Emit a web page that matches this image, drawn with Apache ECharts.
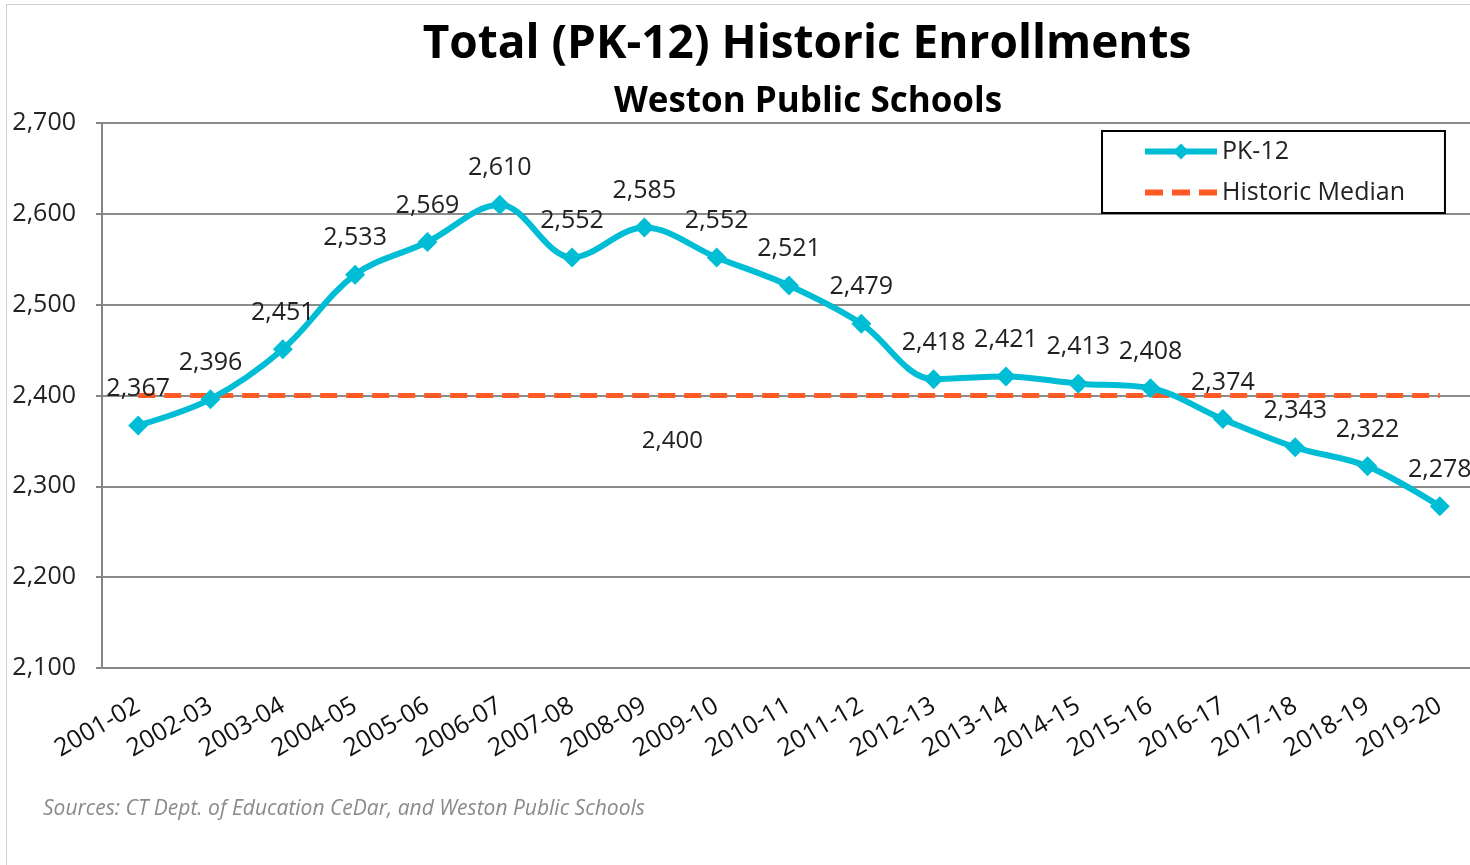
<!DOCTYPE html>
<html>
<head>
<meta charset="utf-8">
<script src="https://cdn.jsdelivr.net/npm/echarts@6/dist/echarts.min.js"></script>
<style>
  html, body { margin: 0; padding: 0; background: #fff; overflow: hidden; }
  #frame { position: absolute; left: 6px; top: 4px; width: 1470px; height: 870px; border: 1px solid #d0d0d0; box-sizing: border-box; }
  #chart { position: absolute; left: 0; top: 0; width: 1480px; height: 865px; }
</style>
</head>
<body>
<div id="frame"></div>
<div id="chart"></div>
<script>
const years = ["2001-02", "2002-03", "2003-04", "2004-05", "2005-06", "2006-07", "2007-08",
  "2008-09", "2009-10", "2010-11", "2011-12", "2012-13", "2013-14", "2014-15", "2015-16",
  "2016-17", "2017-18", "2018-19", "2019-20"];
const enrollment = [2367, 2396, 2451, 2533, 2569, 2610, 2552, 2585, 2552, 2521, 2479,
  2418, 2421, 2413, 2408, 2374, 2343, 2322, 2278];
const historicMedian = 2400;
const yTicks = [2100, 2200, 2300, 2400, 2500, 2600, 2700];

const font = "'Open Sans', 'Noto Sans', sans-serif";
const fmt = (v) => v.toLocaleString("en-US");
const cyan = "#00BDD6";
const orange = "#FF5A26";

const chart = echarts.init(document.getElementById("chart"));
const option = {
  animation: false,
  textStyle: { fontFamily: font },
  title: [
    {
      text: "Total (PK-12) Historic Enrollments",
      left: 802, top: 17, textAlign: "center",
      textStyle: { fontSize: 46, fontWeight: "bold", color: "#000", fontFamily: font },
    },
    {
      text: "Weston Public Schools",
      left: 803, top: 80, textAlign: "center",
      textStyle: { fontSize: 35, fontWeight: "bold", color: "#000", fontFamily: font },
    },
    {
      text: "Sources: CT Dept. of Education CeDar, and Weston Public Schools",
      left: 38, top: 794,
      textStyle: { fontSize: 21, fontStyle: "italic", fontWeight: "normal", color: "#8a8a8a", fontFamily: font },
    },
  ],
  legend: {
    left: 1102, top: 131,
    orient: "vertical",
    padding: [8, 40, 8, 40],
    itemGap: 16,
    itemWidth: 72, itemHeight: 20,
    backgroundColor: "#fff",
    borderColor: "#000", borderWidth: 2,
    textStyle: { fontSize: 25, color: "#222", fontFamily: font },
    data: [
      { name: "PK-12", lineStyle: { width: 6 } },
      {
        name: "Historic Median",
        icon: "path://M0,0h18v6h-18z M27,0h18v6h-18z M54,0h18v6h-18z",
        itemStyle: { color: orange },
      },
    ],
  },
  grid: { left: 102, top: 123, width: 1374, height: 545 },
  xAxis: {
    type: "category",
    data: years,
    boundaryGap: true,
    axisLine: { lineStyle: { color: "#868686", width: 2 } },
    axisTick: { alignWithLabel: true, length: 6, lineStyle: { color: "#868686", width: 2 } },
    axisLabel: { rotate: 30, fontSize: 25, color: "#111", margin: 36, interval: 0, fontFamily: font },
  },
  yAxis: {
    type: "value",
    min: yTicks[0], max: yTicks[yTicks.length - 1], interval: 100,
    axisLine: { show: true, lineStyle: { color: "#868686", width: 2 } },
    axisTick: { show: true, length: 6, lineStyle: { color: "#868686", width: 2 } },
    splitLine: { lineStyle: { color: "#8c8c8c", width: 2 } },
    axisLabel: { fontSize: 25, color: "#222", margin: 26, formatter: fmt, fontFamily: font },
  },
  series: [
    {
      name: "Historic Median",
      type: "line",
      data: years.map(() => historicMedian),
      symbol: "circle",
      symbolSize: 1,
      z: 2,
      lineStyle: { color: orange, width: 5, type: [17, 9] },
      itemStyle: { color: orange },
      label: {
        show: true, position: "bottom", distance: 33, offset: [28, 0],
        fontSize: 24, color: "#222", fontFamily: font,
        formatter: (p) => (p.dataIndex === 7 ? fmt(historicMedian) : ""),
      },
    },
    {
      name: "PK-12",
      type: "line",
      data: enrollment,
      smooth: 0.35,
      symbol: "diamond",
      symbolSize: 20,
      z: 3,
      lineStyle: { color: cyan, width: 6 },
      itemStyle: { color: cyan },
      label: {
        show: true, position: "top", distance: 14,
        fontSize: 25, color: "#222", fontFamily: font,
        formatter: (p) => fmt(p.value),
      },
    },
  ],
};
chart.setOption(option);
</script>
</body>
</html>
